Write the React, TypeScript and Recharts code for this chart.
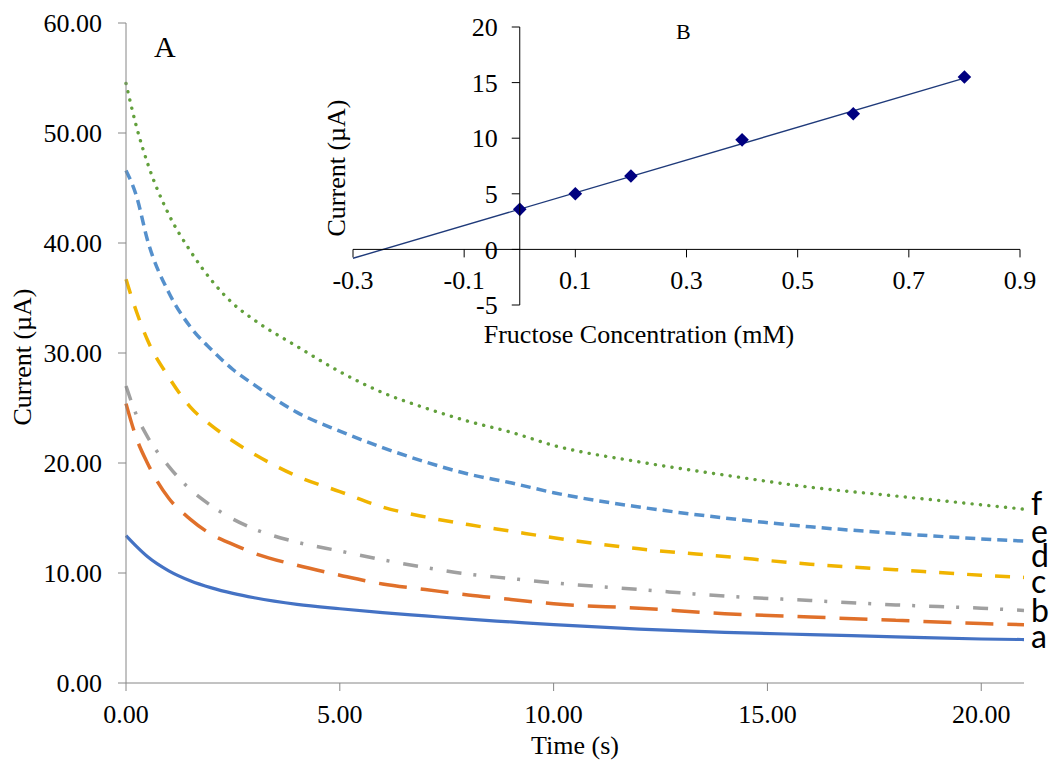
import React from 'react';
import { LineChart, Line, XAxis, YAxis, ComposedChart, Scatter, Label } from 'recharts';

// ---- Main chart (A): chronoamperometric decay curves ----
const time = [0, 0.25, 0.5, 1, 1.5, 2, 2.5, 3, 4, 5, 6, 7, 8, 9, 10, 12, 14, 16, 18, 20, 21];
const seriesA = [13.4, 12.4, 11.5, 10.2, 9.3, 8.65, 8.15, 7.75, 7.15, 6.75, 6.4, 6.1, 5.8, 5.55, 5.3, 4.9, 4.6, 4.4, 4.2, 4.0, 3.95];
const seriesB = [25.4, 22.2, 20.0, 16.8, 14.9, 13.5, 12.6, 11.8, 10.7, 9.8, 9.0, 8.5, 8.0, 7.6, 7.2, 6.8, 6.3, 6.0, 5.7, 5.4, 5.3];
const seriesC = [27.0, 24.3, 22.4, 19.7, 17.6, 16.1, 14.9, 14.0, 12.8, 12.0, 11.2, 10.5, 9.9, 9.5, 9.1, 8.5, 7.9, 7.5, 7.1, 6.8, 6.6];
const seriesD = [36.7, 33.7, 31.2, 27.8, 25.1, 23.4, 22.0, 20.8, 18.8, 17.4, 16.0, 15.1, 14.4, 13.8, 13.2, 12.2, 11.5, 10.8, 10.3, 9.8, 9.6];
const seriesE = [46.6, 44.2, 40.3, 35.5, 32.4, 30.3, 28.5, 27.1, 24.6, 22.9, 21.4, 20.1, 19.0, 18.2, 17.3, 16.0, 15.0, 14.2, 13.6, 13.1, 12.9];
const seriesF = [54.5, 50.5, 47.3, 42.6, 39.3, 36.6, 34.5, 33.0, 30.6, 28.3, 26.4, 25.0, 23.8, 22.8, 21.6, 20.1, 18.9, 17.8, 17.0, 16.2, 15.8];
const mainXTicks = [0, 5, 10, 15, 20];
const mainYTicks = [0, 10, 20, 30, 40, 50, 60];
const curveLabels = ['a', 'b', 'c', 'd', 'e', 'f'];

// ---- Inset chart (B): calibration ----
const concentration = [0, 0.1, 0.2, 0.4, 0.6, 0.8];
const currentB = [3.6, 5.0, 6.6, 9.85, 12.2, 15.5];
const trendX = [-0.3, 0.8];
const trendY = [-0.8, 15.4];
const insetXTicks = [-0.3, -0.1, 0.1, 0.3, 0.5, 0.7, 0.9];
const insetYTicks = [-5, 0, 5, 10, 15, 20];

const mainData = time.map((t, i) => ({
  t,
  a: seriesA[i],
  b: seriesB[i],
  c: seriesC[i],
  d: seriesD[i],
  e: seriesE[i],
  f: seriesF[i],
}));
const insetPoints = concentration.map((x, i) => ({ x, y: currentB[i] }));
const trendData = trendX.map((x, i) => ({ x, y: trendY[i] }));

const W = 1054;
const H = 767;
const serif = '"Liberation Serif", "Times New Roman", Times, serif';
const sans = 'Lato, "Open Sans", "Noto Sans", sans-serif';
const tickStyle = { fill: '#000', fontSize: 26, fontFamily: serif };
const axisGrey = '#868686';

// inset geometry (plot box)
const IN_LEFT = 353;
const IN_RIGHT = 34;
const IN_TOP = 27;
const IN_BOTTOM = H - 305;
const inXMin = -0.3;
const inXMax = 0.9;
const inYMin = -5;
const inYMax = 20;
const inPlotW = W - IN_LEFT - IN_RIGHT;
const inPlotH = H - IN_TOP - IN_BOTTOM;
const yAxisOffsetX = IN_LEFT + (inPlotW * (0 - inXMin)) / (inXMax - inXMin);
const xAxisOffsetY = IN_TOP + (inPlotH * (inYMax - 0)) / (inYMax - inYMin);

const Diamond = (props: any) => {
  const { cx, cy } = props;
  const r = 6.8;
  return (
    <polygon
      points={`${cx},${cy - r} ${cx + r},${cy} ${cx},${cy + r} ${cx - r},${cy}`}
      fill="#000080"
    />
  );
};

const abs: React.CSSProperties = { position: 'absolute', left: 0, top: 0 };

export default function App() {
  const labelYs = [648, 622, 593, 567, 543, 515];
  return (
    <div style={{ position: 'absolute', left: 0, top: 0, width: W, height: H, background: '#fff', fontFamily: serif }}>
      {/* Main chart */}
      <div style={abs}>
        <LineChart width={W} height={H} data={mainData} margin={{ top: 23, right: 30, bottom: 0, left: 0 }}>
          <XAxis
            dataKey="t"
            type="number"
            domain={[0, 21]}
            ticks={mainXTicks}
            interval={0}
            tickFormatter={(v: number) => v.toFixed(2)}
            height={84}
            stroke={axisGrey}
            tickSize={8}
            tickMargin={14}
            tick={tickStyle}
          >
            <Label value="Time (s)" position="insideBottom" offset={13} style={{ fontSize: 26, fontFamily: serif, fill: '#000' }} />
          </XAxis>
          <YAxis
            type="number"
            domain={[0, 60]}
            ticks={mainYTicks}
            interval={0}
            tickFormatter={(v: number) => v.toFixed(2)}
            width={126}
            stroke={axisGrey}
            tickSize={8}
            tickMargin={16}
            tick={tickStyle}
          >
            <Label
              content={({ viewBox }: any) => {
                const cx = 31;
                const cy = viewBox.y + viewBox.height / 2 + 4;
                return (
                  <text x={cx} y={cy} transform={`rotate(-90 ${cx} ${cy})`} textAnchor="middle" fontSize={26} fontFamily={serif} fill="#000">
                    Current (µA)
                  </text>
                );
              }}
            />
          </YAxis>
          <Line type="monotone" dataKey="a" stroke="#4472C4" strokeWidth={3.2} dot={false} isAnimationActive={false} />
          <Line type="monotone" dataKey="b" stroke="#E0702A" strokeWidth={3.5} strokeDasharray="28 14" dot={false} isAnimationActive={false} />
          <Line type="monotone" dataKey="c" stroke="#A0A0A0" strokeWidth={3.5} strokeDasharray="15 12 3 14" dot={false} isAnimationActive={false} />
          <Line type="monotone" dataKey="d" stroke="#F0B400" strokeWidth={3.5} strokeDasharray="15 13" dot={false} isAnimationActive={false} />
          <Line type="monotone" dataKey="e" stroke="#5590CC" strokeWidth={3.5} strokeDasharray="10 6" dot={false} isAnimationActive={false} />
          <Line type="monotone" dataKey="f" stroke="#62A03C" strokeWidth={3.4} strokeDasharray="0.1 8.3" strokeLinecap="round" dot={false} isAnimationActive={false} />
        </LineChart>
      </div>

      {/* Inset plot (data) */}
      <div style={abs}>
        <ComposedChart width={W} height={H} margin={{ top: IN_TOP, right: IN_RIGHT, bottom: IN_BOTTOM, left: IN_LEFT }}>
          <XAxis dataKey="x" type="number" domain={[inXMin, inXMax]} hide />
          <YAxis dataKey="y" type="number" domain={[inYMin, inYMax]} hide />
          <Line data={trendData} dataKey="y" type="linear" stroke="#1F3A7A" strokeWidth={1.4} dot={false} isAnimationActive={false} />
          <Scatter data={insetPoints} dataKey="y" shape={Diamond} isAnimationActive={false} />
        </ComposedChart>
      </div>

      {/* Inset Y axis crossing at x = 0 */}
      <div style={abs}>
        <LineChart width={W} height={H} data={insetPoints} margin={{ top: IN_TOP, right: IN_RIGHT, bottom: IN_BOTTOM, left: yAxisOffsetX - 60 }}>
          <XAxis dataKey="x" type="number" domain={[0, inXMax]} hide />
          <YAxis
            dataKey="y"
            type="number"
            domain={[inYMin, inYMax]}
            ticks={insetYTicks}
            interval={0}
            width={60}
            stroke="#000"
            tickSize={8}
            tickMargin={14}
            tick={tickStyle}
          />
          <Line dataKey="y" stroke="none" dot={false} activeDot={false} isAnimationActive={false} />
        </LineChart>
      </div>

      {/* Inset X axis crossing at y = 0 */}
      <div style={abs}>
        <LineChart width={W} height={H} data={insetPoints} margin={{ top: IN_TOP, right: IN_RIGHT, bottom: H - xAxisOffsetY - 40, left: IN_LEFT }}>
          <XAxis
            dataKey="x"
            type="number"
            domain={[inXMin, inXMax]}
            ticks={insetXTicks}
            interval={0}
            height={40}
            stroke="#000"
            tickSize={8}
            tickMargin={13}
            tick={tickStyle}
          />
          <YAxis type="number" domain={[0, inYMax]} hide />
        </LineChart>
      </div>

      {/* Annotations */}
      <svg width={W} height={H} style={{ ...abs, pointerEvents: 'none' }}>
        <text x={154} y={57} fontSize={30} fontFamily={serif} fill="#000">A</text>
        <text x={676} y={39} fontSize={22} fontFamily={serif} fill="#000">B</text>
        <text x={345} y={168} transform="rotate(-90 345 168)" textAnchor="middle" fontSize={26} fontFamily={serif} fill="#000">
          Current (µA)
        </text>
        <text x={639} y={343} textAnchor="middle" fontSize={26} fontFamily={serif} fill="#000">
          Fructose Concentration (mM)
        </text>
        {curveLabels.map((l, i) => (
          <text key={l} x={1031} y={labelYs[i]} fontSize={32} fontFamily={sans} fill="#000">
            {l}
          </text>
        ))}
      </svg>
    </div>
  );
}
